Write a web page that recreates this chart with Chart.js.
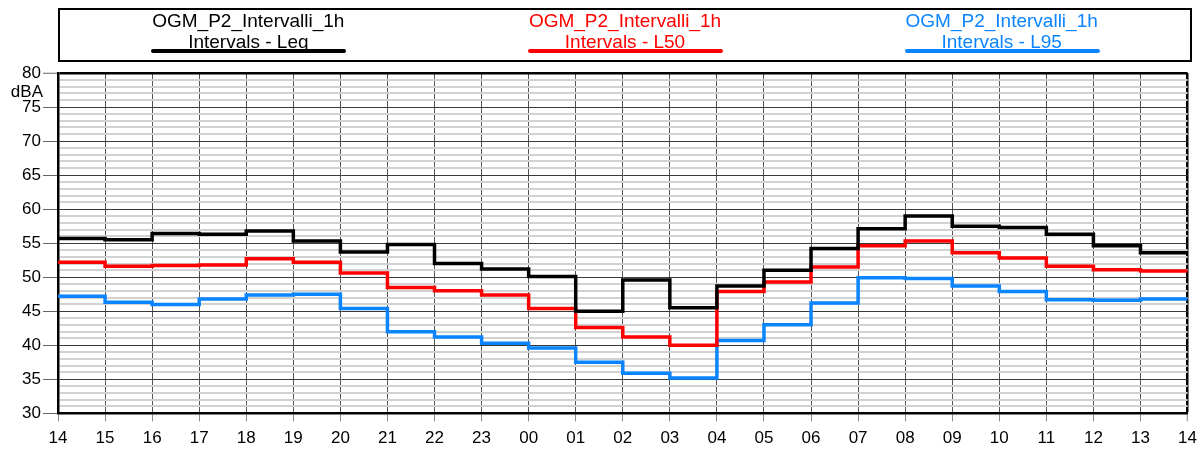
<!DOCTYPE html>
<html>
<head>
<meta charset="utf-8">
<script src="https://cdn.jsdelivr.net/npm/chart.js@4.4.1/dist/chart.umd.min.js"></script>
<style>
  html, body { margin: 0; padding: 0; background: #fff; }
  #wrap { position: relative; width: 1204px; height: 450px; overflow: hidden; }
  #c { position: absolute; left: 0; top: 0; }
  #legend {
    position: absolute; left: 58px; top: 8px; width: 1134px; height: 54px;
    box-sizing: border-box; border: 2px solid #000; display: flex;
    font-family: "Liberation Sans", Arial, sans-serif; font-size: 19px;
  }
  .col { flex: 1; position: relative; text-align: center; padding-top: 0px; line-height: 21px; }
  .bar { position: absolute; top: 39px; left: 50%; width: 195px; height: 4px; margin-left: -97px; border-radius: 2px; }
</style>
</head>
<body>
<div id="wrap">
  <canvas id="c" width="1204" height="450"></canvas>
  <div id="legend"></div>
</div>
<script>
// ---- data ----
const hourLabels = ["14","15","16","17","18","19","20","21","22","23","00","01","02","03","04","05","06","07","08","09","10","11","12","13","14"];
const seriesSource = "OGM_P2_Intervalli_1h";
const seriesNames = ["Intervals - Leq", "Intervals - L50", "Intervals - L95"];
const seriesColors = ["#000000", "#ff0000", "#0a84ff"];
const leqValues = [55.7,55.5,56.4,56.3,56.8,55.3,53.7,54.8,52.0,51.2,50.1,45.0,49.6,45.5,48.7,51.0,54.2,57.1,59.0,57.5,57.3,56.3,54.6,53.6];
const l50Values = [52.2,51.6,51.7,51.8,52.7,52.2,50.6,48.5,48.0,47.4,45.4,42.6,41.2,40.0,47.9,49.3,51.5,54.6,55.3,53.6,52.8,51.6,51.1,50.9];
const l95Values = [47.2,46.3,46.0,46.8,47.4,47.5,45.4,42.0,41.2,40.3,39.6,37.5,35.9,35.2,40.7,43.0,46.2,49.9,49.8,48.7,47.9,46.7,46.6,46.8];
const yMin = 30, yMax = 80, yUnit = "dBA";

const allValues = [leqValues, l50Values, l95Values];

function stepPoints(vals) {
  const pts = vals.map((v, i) => ({ x: i, y: v }));
  pts.push({ x: vals.length, y: vals[vals.length - 1] });
  return pts;
}

// legend (HTML, real text)
const legendEl = document.getElementById('legend');
seriesNames.forEach((n, i) => {
  const col = document.createElement('div');
  col.className = 'col';
  col.style.color = seriesColors[i];
  col.innerHTML = '<div>' + seriesSource + '</div><div>' + n + '</div>';
  const bar = document.createElement('div');
  bar.className = 'bar';
  bar.style.background = seriesColors[i];
  col.appendChild(bar);
  legendEl.appendChild(col);
});

const FONT = "'Liberation Sans', Arial, sans-serif";

const unitPlugin = {
  id: 'unitLabel',
  afterDraw(chart) {
    const y = chart.scales.y;
    const ctx = chart.ctx;
    ctx.save();
    ctx.font = '17px ' + FONT;
    ctx.fillStyle = '#000';
    ctx.textAlign = 'right';
    ctx.textBaseline = 'middle';
    ctx.fillText(yUnit, y.right - 15, y.getPixelForValue(77.2));
    ctx.restore();
  }
};

new Chart(document.getElementById('c'), {
  type: 'line',
  data: {
    datasets: allValues.map((vals, i) => ({
      label: seriesNames[i],
      data: stepPoints(vals),
      borderColor: seriesColors[i],
      backgroundColor: seriesColors[i],
      borderWidth: 3.5,
      stepped: 'before',
      pointRadius: 0,
      fill: false
    }))
  },
  options: {
    responsive: false,
    animation: false,
    layout: { padding: { top: 73, right: 13, left: 0, bottom: 0 } },
    plugins: { legend: { display: false }, title: { display: false }, tooltip: { enabled: false } },
    scales: {
      x: {
        type: 'linear', min: 0, max: hourLabels.length - 1,
        afterFit(s) { s.height = 36.7; },
        ticks: {
          stepSize: 1, autoSkip: false, maxRotation: 0, padding: 7,
          color: '#000', font: { family: FONT, size: 17 },
          callback: (v) => hourLabels[v]
        },
        grid: {
          color: (c) => c.tick && c.tick.value === hourLabels.length - 1 ? '#000' : '#555',
          lineWidth: (c) => c.tick && c.tick.value === hourLabels.length - 1 ? 2.5 : 1,
          tickColor: '#888', tickLength: 8, tickWidth: 1
        },
        border: { display: true, color: '#000', width: 2.5 }
      },
      y: {
        min: yMin, max: yMax,
        afterFit(s) { s.width = 58; },
        ticks: {
          stepSize: 1, autoSkip: false, padding: 2,
          color: '#000', font: { family: FONT, size: 17 },
          callback: (v) => (v % 5 === 0 ? String(v) : '')
        },
        grid: {
          color: (c) => {
            const v = c.tick ? c.tick.value : 0;
            if (v === yMax) return '#000';
            return v % 5 === 0 ? '#3a3a3a' : '#d2d2d2';
          },
          lineWidth: (c) => {
            const v = c.tick ? c.tick.value : 0;
            if (v === yMax) return 2.5;
            return v % 5 === 0 ? 1 : 2;
          },
          tickColor: (c) => (c.tick && c.tick.value % 5 === 0 ? '#666' : 'rgba(0,0,0,0)'),
          tickLength: 15, tickWidth: 1
        },
        border: { display: true, color: '#000', width: 2.5 }
      }
    }
  },
  plugins: [unitPlugin]
});
</script>
</body>
</html>
